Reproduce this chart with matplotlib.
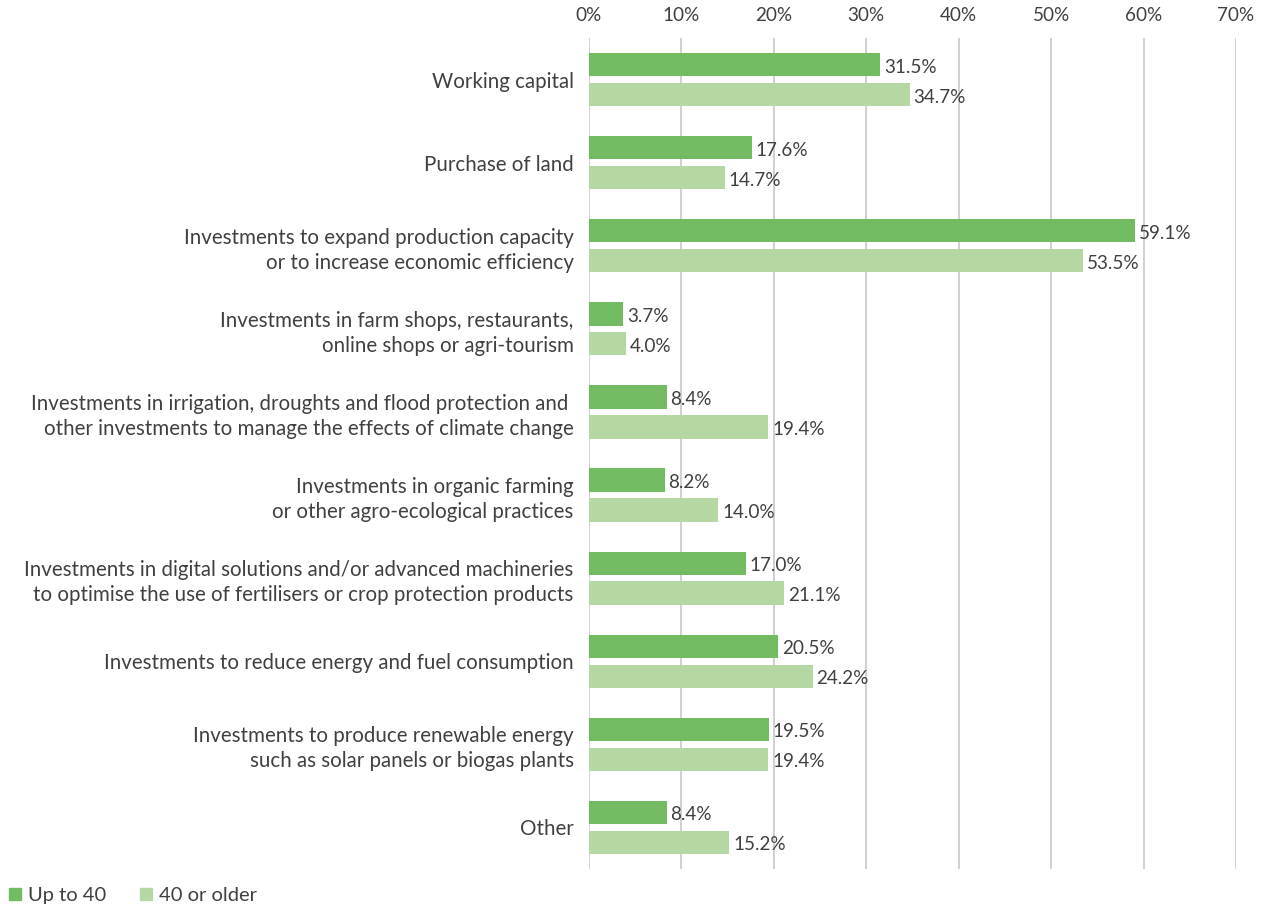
import matplotlib
matplotlib.use("Agg")
import matplotlib.pyplot as plt
import numpy as np
from matplotlib.lines import Line2D

categories = [
    "Working capital",
    "Purchase of land",
    "Investments to expand production capacity\nor to increase economic efficiency",
    "Investments in farm shops, restaurants,\nonline shops or agri-tourism",
    "Investments in irrigation, droughts and flood protection and \nother investments to manage the effects of climate change",
    "Investments in organic farming\nor other agro-ecological practices",
    "Investments in digital solutions and/or advanced machineries\nto optimise the use of fertilisers or crop protection products",
    "Investments to reduce energy and fuel consumption",
    "Investments to produce renewable energy\nsuch as solar panels or biogas plants",
    "Other",
]
up_to_40 = [31.5, 17.6, 59.1, 3.7, 8.4, 8.2, 17.0, 20.5, 19.5, 8.4]
older_40 = [34.7, 14.7, 53.5, 4.0, 19.4, 14.0, 21.1, 24.2, 19.4, 15.2]
series_names = ["Up to 40", "40 or older"]
xticks = [0, 10, 20, 30, 40, 50, 60, 70]

c_dark = "#72BB62"
c_light = "#B4D7A4"
txt = "#404040"

plt.rcParams['font.family'] = ['Lato', 'DejaVu Sans']

fig = plt.figure(figsize=(12.63, 9.07), dpi=100)
ax = fig.add_axes([589/1263, 1-869/907, (1236-589)/1263, (869-38)/907])

y = np.arange(len(categories))
h = 0.28
off = 0.18
b1 = ax.barh(y - off, up_to_40, height=h, color=c_dark, zorder=3)
b2 = ax.barh(y + off, older_40, height=h, color=c_light, zorder=3)

for bars, vals in ((b1, up_to_40), (b2, older_40)):
    for bar, v in zip(bars, vals):
        ax.text(v + 0.4, bar.get_y() + bar.get_height()/2 + 0.03, f"{v:.1f}%",
                va="center", ha="left", fontsize=13.6, color=txt, zorder=4)

ax.set_xlim(0, 70)
ax.set_ylim(len(categories) - 0.5, -0.5)
ax.set_xticks(xticks)
ax.set_xticklabels([f"{t}%" for t in xticks])
ax.xaxis.tick_top()
ax.tick_params(axis='x', length=0, pad=10, labelsize=13.6, colors=txt)
ax.set_yticks(y)
ax.set_yticklabels(categories, fontsize=14.8, color=txt, linespacing=1.3)
ax.tick_params(axis='y', length=0, pad=11)
for s in ax.spines.values():
    s.set_visible(False)
ax.grid(axis='x', color="#C8C8C8", linewidth=1.2, zorder=0)
ax.set_axisbelow(True)

handles = [Line2D([], [], marker='s', linestyle='none', markersize=8, color=c) for c in (c_dark, c_light)]
fig.legend(handles, series_names, loc='lower left', bbox_to_anchor=(-0.006, -0.012), ncol=2,
           frameon=False, fontsize=14.5, handletextpad=0.25, columnspacing=1.6,
           handlelength=0.8, labelcolor=txt, borderaxespad=0.3)

fig.savefig("out.png", dpi=100)
